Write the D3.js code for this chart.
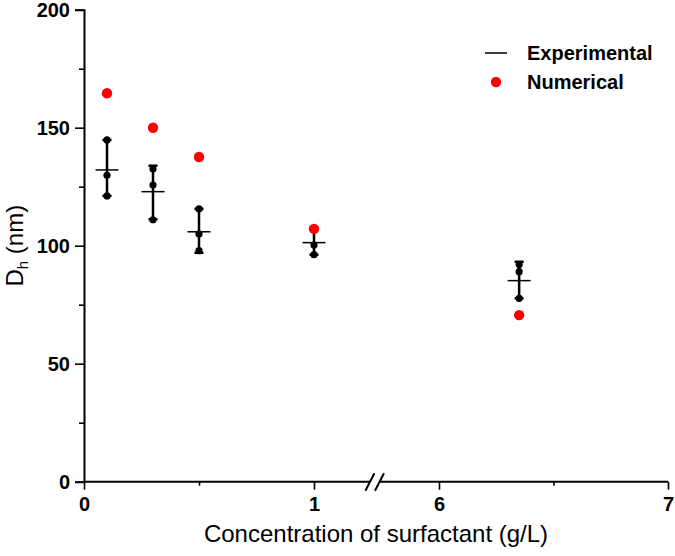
<!DOCTYPE html>
<html>
<head>
<meta charset="utf-8">
<script src="https://cdn.jsdelivr.net/npm/d3@7"></script>
<style>
  html, body { margin: 0; padding: 0; background: #fff; }
  svg { display: block; font-family: "Liberation Sans", Arial, sans-serif; }
</style>
</head>
<body>
<svg id="chart" width="675" height="556"></svg>
<script>
// ---- data ----
const concentrations = [0.1, 0.3, 0.5, 1, 6.35];
const numerical = [164.6, 150.0, 137.6, 107.1, 70.6];
const expMean = [132.1, 122.9, 105.9, 101.3, 85.2];
const expRep1 = [144.8, 132.5, 115.6, 107.4, 92.0];
const expRep2 = [129.8, 125.7, 105.0, 100.3, 89.0];
const expRep3 = [121.1, 111.0, 97.9, 96.2, 77.7];
const errLow = [121.1, 111.2, 97.0, 96.2, 77.7];
const errHigh = [144.8, 133.9, 115.6, 107.4, 93.2];
const yTicks = [0, 50, 100, 150, 200];
const yMinorTicks = [25, 75, 125, 175];
const xTicksLeft = [0, 1];
const xTicksRight = [6, 7];
const xMinorLeft = [0.5];
const xMinorRight = [6.5];
const breakValues = [1.243, 5.74];
const seriesNames = ["Experimental", "Numerical"];

// ---- scales ----
const svg = d3.select("#chart");
const y = d3.scaleLinear().domain([0, 200]).range([481.7, 9.7]);
const xL = d3.scaleLinear().domain([0, 1]).range([84, 314]);
const xR = d3.scaleLinear().domain([6, 7]).range([439, 668]);
const x = v => (v <= 3 ? xL(v) : xR(v));

const axisColor = "#000";

// ---- y axis ----
const gy = svg.append("g").attr("transform", `translate(${xL(0)},0)`);
gy.call(d3.axisLeft(y).tickValues(yTicks).tickSize(9).tickPadding(5));
gy.append("g").call(d3.axisLeft(y).tickValues(yMinorTicks).tickSize(5).tickFormat(""))
  .select(".domain").remove();
gy.selectAll(".domain").attr("stroke", axisColor).attr("stroke-width", 2);
gy.selectAll(".tick line").attr("stroke", axisColor).attr("stroke-width", 1.6);
gy.selectAll(".tick text").attr("font-size", 20).attr("font-weight", "bold").attr("fill", "#000")
  .attr("font-family", "'Liberation Sans', Arial, sans-serif");

// ---- x axis (broken) ----
const gx = svg.append("g").attr("transform", `translate(0,${y(0)})`);
const fmt = d3.format("d");
function styleX(g) {
  g.select(".domain").remove();
  g.selectAll(".tick line").attr("stroke", axisColor).attr("stroke-width", 1.6);
  g.selectAll(".tick text").attr("font-size", 20).attr("font-weight", "bold").attr("fill", "#000")
    .attr("font-family", "'Liberation Sans', Arial, sans-serif");
}
gx.append("g").call(d3.axisBottom(xL).tickValues(xTicksLeft).tickSize(8).tickPadding(7).tickFormat(fmt)).call(styleX);
gx.append("g").call(d3.axisBottom(xR).tickValues(xTicksRight).tickSize(8).tickPadding(7).tickFormat(fmt)).call(styleX);
gx.append("g").call(d3.axisBottom(xL).tickValues(xMinorLeft).tickSize(4).tickFormat("")).call(styleX);
gx.append("g").call(d3.axisBottom(xR).tickValues(xMinorRight).tickSize(4).tickFormat("")).call(styleX);
// domain lines
gx.append("line").attr("x1", xL(0)).attr("x2", xL(breakValues[0])).attr("y1", 0).attr("y2", 0)
  .attr("stroke", axisColor).attr("stroke-width", 2);
gx.append("line").attr("x1", xR(breakValues[1])).attr("x2", xR(7)).attr("y1", 0).attr("y2", 0)
  .attr("stroke", axisColor).attr("stroke-width", 2);
// break slashes
[xL(breakValues[0]), xR(breakValues[1])].forEach(cx => {
  gx.append("line").attr("x1", cx - 4.5).attr("y1", 9).attr("x2", cx + 4.5).attr("y2", -8.5)
    .attr("stroke", axisColor).attr("stroke-width", 2);
});

// ---- axis titles ----
svg.append("text")
  .attr("x", (xL(0) + xR(7)) / 2).attr("y", 542)
  .attr("text-anchor", "middle").attr("font-size", 24).attr("fill", "#000")
  .text("Concentration of surfactant (g/L)");

const yt = svg.append("text")
  .attr("transform", `translate(23,${(y(0) + y(200)) / 2}) rotate(-90)`)
  .attr("text-anchor", "middle").attr("font-size", 24).attr("fill", "#000");
yt.append("tspan").text("D");
yt.append("tspan").attr("font-size", 15).attr("dy", 5).text("h");
yt.append("tspan").attr("dy", -5).text(" (nm)");

// ---- experimental ----
const exp = concentrations.map((c, i) => ({
  c, mean: expMean[i], lo: errLow[i], hi: errHigh[i],
  reps: [expRep1[i], expRep2[i], expRep3[i]]
}));
const ge = svg.append("g");
const grp = ge.selectAll("g.exp").data(exp).join("g").attr("class", "exp");
grp.append("line").attr("x1", d => x(d.c)).attr("x2", d => x(d.c))
  .attr("y1", d => y(d.lo)).attr("y2", d => y(d.hi))
  .attr("stroke", "#000").attr("stroke-width", 2.5);
grp.selectAll("line.cap").data(d => [d.lo, d.hi].map(v => ({c: d.c, v}))).join("line").attr("class", "cap")
  .attr("x1", d => x(d.c) - 4.5).attr("x2", d => x(d.c) + 4.5)
  .attr("y1", d => y(d.v)).attr("y2", d => y(d.v))
  .attr("stroke", "#000").attr("stroke-width", 2.5);
grp.selectAll("circle").data(d => d.reps.map(v => ({c: d.c, v}))).join("circle")
  .attr("cx", d => x(d.c)).attr("cy", d => y(d.v)).attr("r", 3.6).attr("fill", "#000");
grp.append("line").attr("x1", d => x(d.c) - 11.5).attr("x2", d => x(d.c) + 11.5)
  .attr("y1", d => y(d.mean)).attr("y2", d => y(d.mean))
  .attr("stroke", "#000").attr("stroke-width", 1.5);

// ---- numerical ----
svg.append("g").selectAll("circle").data(concentrations.map((c, i) => ({c, v: numerical[i]}))).join("circle")
  .attr("cx", d => x(d.c)).attr("cy", d => y(d.v)).attr("r", 5.2).attr("fill", "#ff0000");

// ---- legend ----
const lg = svg.append("g");
lg.append("line").attr("x1", 485).attr("x2", 507).attr("y1", 53).attr("y2", 53)
  .attr("stroke", "#000").attr("stroke-width", 1.5);
lg.append("circle").attr("cx", 496).attr("cy", 82).attr("r", 5.2).attr("fill", "#ff0000");
lg.selectAll("text").data(seriesNames).join("text")
  .attr("x", 527).attr("y", (d, i) => 60 + i * 29)
  .attr("font-size", 20).attr("font-weight", "bold").attr("fill", "#000")
  .text(d => d);
</script>
</body>
</html>
